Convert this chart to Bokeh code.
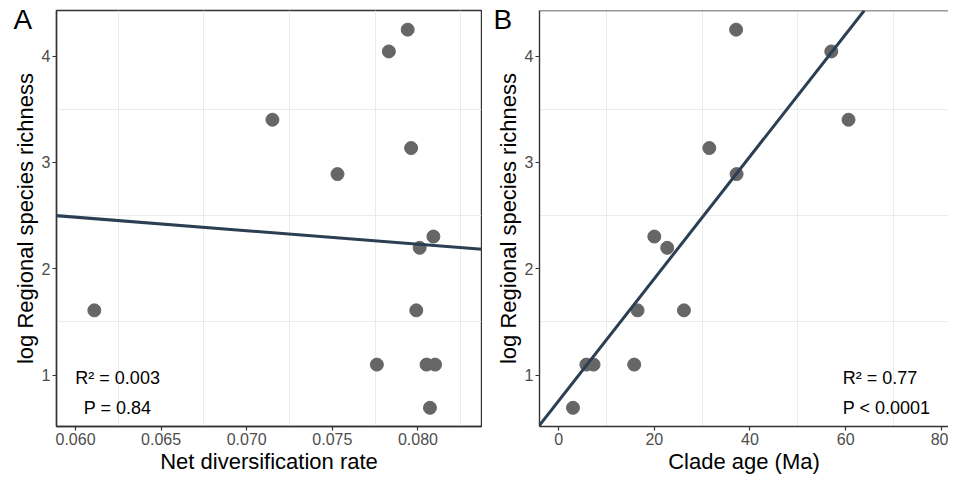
import numpy as np
from bokeh.plotting import figure
from bokeh.layouts import row
from bokeh.models import (FixedTicker, Range1d, Slope, Label, Span, Title,
                          NumeralTickFormatter, ColumnDataSource)
from bokeh.embed import file_html
from bokeh.resources import INLINE

# ---- data ----
log_richness = [4.248, 4.043, 3.401, 3.135, 2.890, 2.303, 2.197,
                1.609, 1.609, 1.099, 1.099, 1.099, 0.693]
net_div_rate = [0.0794, 0.0783, 0.0715, 0.0796, 0.0753, 0.0809, 0.0801,
                0.0611, 0.0799, 0.0776, 0.0805, 0.0810, 0.0807]
clade_age = [37.1, 57.0, 60.6, 31.5, 37.2, 20.0, 22.7,
             16.5, 26.2, 5.8, 7.3, 15.8, 3.0]

a_xticks = [0.060, 0.065, 0.070, 0.075, 0.080]
a_xminor = [0.0575, 0.0625, 0.0675, 0.0725, 0.0775, 0.0825]
b_xticks = [0, 20, 40, 60, 80]
b_xminor = [-10, 10, 30, 50, 70, 90]
y_ticks = [1, 2, 3, 4]
y_minor = [0.5, 1.5, 2.5, 3.5, 4.5]

a_stats = ["R\u00b2 = 0.003", "P = 0.84"]
b_stats = ["R\u00b2 = 0.77", "P < 0.0001"]

FONT = "Liberation Sans"
PT_COLOR = "#666666"
LINE_COLOR = "#2b3e52"
BORDER = "#333333"
GRID = "#ebebeb"


def make_panel(x, xr, xt, xmn, fmt, xlabel, width, border_left, border_right,
               letter, letter_offset):
    p = figure(width=width, height=476, x_range=xr,
               y_range=Range1d(0.517, 4.428),
               output_backend="svg", toolbar_location=None,
               min_border_left=border_left, min_border_right=border_right,
               min_border_top=10, min_border_bottom=10)
    p.background_fill_color = "white"
    p.border_fill_color = "white"

    xtick = FixedTicker(ticks=xt, minor_ticks=xmn)
    ytick = FixedTicker(ticks=y_ticks, minor_ticks=y_minor)
    p.xaxis.ticker = xtick
    p.xgrid.ticker = xtick
    p.yaxis.ticker = ytick
    p.ygrid.ticker = ytick
    p.xaxis.formatter = NumeralTickFormatter(format=fmt)
    p.yaxis.formatter = NumeralTickFormatter(format="0")

    for g in (p.xgrid, p.ygrid):
        g.grid_line_color = None
        g.minor_grid_line_color = GRID
        g.minor_grid_line_width = 1

    for ax in (p.xaxis, p.yaxis):
        ax.major_tick_out = 4
        ax.major_tick_in = 0
        ax.minor_tick_line_color = None
        ax.major_tick_line_color = BORDER
        ax.major_tick_line_width = 1.2
        ax.axis_line_color = BORDER
        ax.axis_line_width = 1.4
        ax.major_label_text_font = FONT
        ax.major_label_text_font_size = "16px"
        ax.major_label_text_color = "#4d4d4d"
        ax.axis_label_text_font = FONT
        ax.axis_label_text_font_size = "22px"
        ax.axis_label_text_font_style = "normal"
        ax.axis_label_text_color = "black"
        ax.major_label_standoff = 2
        ax.axis_label_standoff = 1
    p.xaxis.axis_label = xlabel
    p.yaxis.axis_label = "log Regional species richness"

    src = ColumnDataSource(dict(x=x, y=log_richness))
    p.scatter("x", "y", source=src, size=13, fill_color=PT_COLOR,
              line_color=PT_COLOR)

    m, b = np.polyfit(np.array(x), np.array(log_richness), 1)
    p.add_layout(Slope(gradient=float(m), y_intercept=float(b),
                       line_color=LINE_COLOR, line_width=3))

    # panel letter, drawn in the top-left margin
    p.add_layout(Title(text=letter, align="left", offset=letter_offset,
                       standoff=-49, text_font=FONT, text_font_size="28px",
                       text_font_style="normal", text_color="black"), "above")
    return p


pa = make_panel(net_div_rate, Range1d(0.05889, 0.08371), a_xticks, a_xminor,
                "0.000", "Net diversification rate", 482, 56, 1, "A", -43)
pa.outline_line_color = BORDER
pa.outline_line_width = 1.4

pb = make_panel(clade_age, Range1d(-4.0, 81.5), b_xticks, b_xminor,
                "0", "Clade age (Ma)", 466, 57, 0, "B", -46)
pb.outline_line_color = None
pb.add_layout(Span(location=4.428, dimension="width",
                   line_color=BORDER, line_width=1.4))

# stats annotations
for txt, yy in zip(a_stats, [0.975, 0.691]):
    pa.add_layout(Label(x=0.06246, y=yy, text=txt, text_align="center",
                        text_baseline="middle", text_font=FONT,
                        text_font_size="18px", text_color="black"))
for txt, yy in zip(b_stats, [0.975, 0.691]):
    pb.add_layout(Label(x=59.4, y=yy, text=txt, text_align="left",
                        text_baseline="middle", text_font=FONT,
                        text_font_size="18px", text_color="black"))

layout = row(pa, pb)
open("out.html", "w").write(file_html(layout, INLINE))
